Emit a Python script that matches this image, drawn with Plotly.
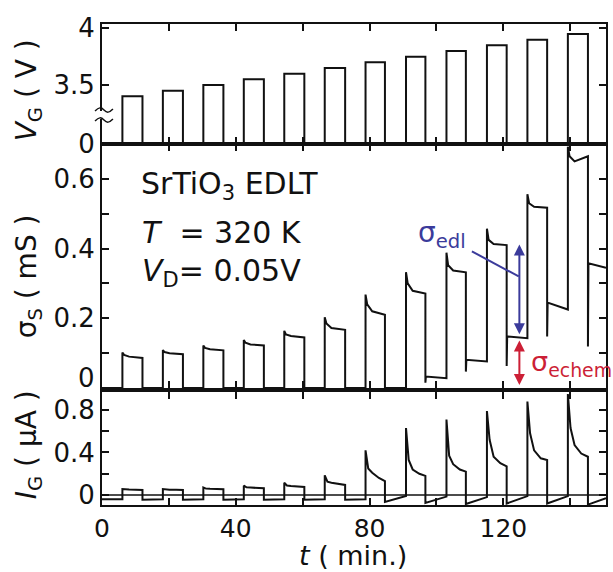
import plotly.graph_objects as go

# ---------------- data ----------------
t_on = [6.1, 18.2, 30.3, 42.4, 54.5, 66.6, 78.8, 90.9, 103.0, 115.1, 127.2, 139.3]
t_off = [12.1, 24.2, 36.3, 48.4, 60.5, 72.7, 84.6, 96.7, 108.8, 121.0, 133.1, 145.3]
t_end = 150.7

# gate voltage of each pulse (V)
vg = [3.40, 3.45, 3.50, 3.55, 3.60, 3.65, 3.70, 3.75, 3.80, 3.85, 3.90, 3.95]

# sheet conductance (mS): peak at gate-on, +0.5 min, +2 min, at gate-off,
# undershoot at gate-off, off level start / end
sig_peak = [0.102, 0.109, 0.122, 0.138, 0.164, 0.203, 0.268, 0.332, 0.388, 0.457, 0.556, 0.692]
sig_k1 = [0.095, 0.103, 0.115, 0.130, 0.154, 0.185, 0.240, 0.300, 0.352, 0.425, 0.530, 0.665]
sig_k2 = [0.090, 0.100, 0.111, 0.125, 0.149, 0.172, 0.220, 0.279, 0.337, 0.413, 0.520, 0.650]
sig_end = [0.086, 0.097, 0.108, 0.122, 0.145, 0.167, 0.210, 0.271, 0.332, 0.410, 0.517, 0.665]
sig_under = [0, 0, 0, 0, 0, 0, 0, 0.015, 0.047, 0.063, 0.148, 0.119]
sig_off_start = [0, 0, 0, 0, 0, 0, 0, 0.033, 0.081, 0.148, 0.245, 0.358]
sig_off_end = [0, 0, 0, 0, 0, 0, 0, 0.028, 0.076, 0.143, 0.225, 0.345]

# gate current (uA): peak, +0.8 min, +2 min, +4 min, at gate-off, off start / end
ig_pre = -0.04
ig_peak = [0.056, 0.056, 0.070, 0.088, 0.115, 0.185, 0.42, 0.63, 0.71, 0.79, 0.88, 0.95]
ig_k1 = [0.052, 0.052, 0.060, 0.072, 0.090, 0.125, 0.25, 0.33, 0.37, 0.52, 0.58, 0.63]
ig_k2 = [0.052, 0.050, 0.058, 0.070, 0.085, 0.115, 0.21, 0.24, 0.29, 0.36, 0.42, 0.47]
ig_k3 = [0.050, 0.050, 0.056, 0.066, 0.080, 0.105, 0.16, 0.20, 0.24, 0.30, 0.345, 0.39]
ig_end = [0.048, 0.048, 0.055, 0.063, 0.075, 0.095, 0.13, 0.18, 0.22, 0.27, 0.33, 0.36]
ig_off_start = [-0.045, -0.045, -0.045, -0.045, -0.045, -0.045, -0.065, -0.075, -0.085, -0.08, -0.08, -0.09]
ig_off_end = [-0.04, -0.04, -0.04, -0.04, -0.04, -0.04, -0.01, -0.015, -0.02, -0.01, -0.01, -0.03]

# annotation values
edl_t, edl_lo, edl_hi = 124.8, 0.150, 0.412
echem_lo, echem_hi = 0.004, 0.136

x_tickvals = [0, 20, 40, 60, 80, 100, 120, 140]
x_ticktext = ["0", "", "40", "", "80", "", "120", ""]

V_BREAK = 2.98  # where 0 V sits on the broken V_G axis

# ---------------- build traces ----------------
vx, vy = [0], [V_BREAK]
for a, b, v in zip(t_on, t_off, vg):
    vx += [a, a, b, b]
    vy += [V_BREAK, v, v, V_BREAK]
vx.append(t_end); vy.append(V_BREAK)

sx, sy = [0], [0.0]
base = 0.0
for k in range(len(t_on)):
    a, b = t_on[k], t_off[k]
    nxt = t_on[k + 1] if k + 1 < len(t_on) else t_end
    sx += [a, a, a + 0.5, a + 2, b, b, b + 0.15, nxt]
    sy += [base, sig_peak[k], sig_k1[k], sig_k2[k], sig_end[k], sig_under[k],
           sig_off_start[k], sig_off_end[k]]
    base = sig_off_end[k]

ix, iy = [0], [ig_pre]
base = ig_pre
for k in range(len(t_on)):
    a, b = t_on[k], t_off[k]
    nxt = t_on[k + 1] if k + 1 < len(t_on) else t_end
    ix += [a, a, a + 0.8, a + 2, a + 4, b, b, nxt]
    iy += [base, ig_peak[k], ig_k1[k], ig_k2[k], ig_k3[k], ig_end[k],
           ig_off_start[k], ig_off_end[k]]
    base = ig_off_end[k]

LC = "#111111"
fig = go.Figure()
fig.add_trace(go.Scatter(x=ix, y=iy, mode="lines", line=dict(color=LC, width=2),
                         xaxis="x", yaxis="y", showlegend=False))
fig.add_trace(go.Scatter(x=sx, y=sy, mode="lines", line=dict(color=LC, width=2),
                         xaxis="x2", yaxis="y2", showlegend=False))
fig.add_trace(go.Scatter(x=vx, y=vy, mode="lines", line=dict(color=LC, width=2),
                         xaxis="x3", yaxis="y3", showlegend=False))

FONT = "DejaVu Sans, Liberation Sans, Arial, sans-serif"
FS_TICK = 26
FS_TITLE = 28
FS_TEXT = 30
FS_SIG = 28

axis_common = dict(showline=True, linewidth=2, linecolor=LC, mirror="ticks",
                   ticks="inside", ticklen=7, tickwidth=1.5, tickcolor=LC,
                   showgrid=False, zeroline=False,
                   tickfont=dict(family=FONT, size=FS_TICK, color=LC))

# plot area in pixels: x 102..608, y 24..505
L, R, T, B = 102, 608, 24, 505
W, H = R - L, B - T

def px(x):
    return (x - L) / W

def py(y):
    return (B - y) / H

fig.update_layout(
    width=613, height=572,
    margin=dict(l=L, r=613 - R, t=T, b=572 - B),
    paper_bgcolor="white", plot_bgcolor="white",
    font=dict(family=FONT, size=FS_TICK, color=LC),
    xaxis=dict(axis_common, domain=[0, 1], range=[0, t_end], anchor="y",
               tickvals=x_tickvals, ticktext=x_ticktext,
               tickfont=dict(family=FONT, size=FS_TICK - 1, color=LC)),
    xaxis2=dict(axis_common, domain=[0, 1], range=[0, t_end], anchor="y2",
                tickvals=x_tickvals, showticklabels=False, matches="x"),
    xaxis3=dict(axis_common, domain=[0, 1], range=[0, t_end], anchor="y3",
                tickvals=x_tickvals, showticklabels=False, matches="x"),
    yaxis=dict(axis_common, domain=[0, py(392)], range=[-0.094, 0.969], anchor="x",
               tickvals=[0, 0.2, 0.4, 0.6, 0.8], ticktext=["0", "", "0.4", "", "0.8"]),
    yaxis2=dict(axis_common, domain=[py(388), py(144)], range=[0, 0.7], anchor="x2",
                tickvals=[0, 0.1, 0.2, 0.3, 0.4, 0.5, 0.6, 0.7],
                ticktext=["", "", "0.2", "", "0.4", "", "0.6", ""]),
    yaxis3=dict(axis_common, domain=[py(144), 1], range=[V_BREAK, 4.038], anchor="x3",
                tickvals=[V_BREAK, 3.5, 4.0], ticktext=["0", "3.5", "4"]),
)

# zero reference line in the I_G panel
fig.add_shape(type="line", xref="x domain", yref="y", x0=0, x1=1, y0=0, y1=0,
              line=dict(color=LC, width=1.5))

# axis break on V_G axis: white gap plus two wavy strokes
fig.add_shape(type="rect", xref="paper", yref="paper", x0=px(97), x1=px(107),
              y0=py(119), y1=py(111), fillcolor="white", line=dict(width=0), layer="above")
for yy in (110, 120):
    pts = [(95, yy + 1), (99, yy - 3), (104, yy), (109, yy + 3), (113, yy - 1)]
    path = "M {:.5f} {:.5f} C {:.5f} {:.5f} {:.5f} {:.5f} {:.5f} {:.5f} S {:.5f} {:.5f} {:.5f} {:.5f}".format(
        px(pts[0][0]), py(pts[0][1]), px(pts[1][0]), py(pts[1][1]),
        px(pts[1][0] + 2), py(pts[2][1] - 3), px(pts[2][0]), py(pts[2][1]),
        px(pts[3][0]), py(pts[3][1]), px(pts[4][0]), py(pts[4][1]))
    fig.add_shape(type="path", xref="paper", yref="paper", path=path,
                  line=dict(color=LC, width=1.5), layer="above")

ann = []
# axis titles
ann.append(dict(xref="paper", yref="paper", x=px(28), y=py(90), textangle=-90,
                text="<i>V</i><sub>G</sub> ( V )", showarrow=False,
                xanchor="center", yanchor="middle", font=dict(size=FS_TITLE)))
ann.append(dict(xref="paper", yref="paper", x=px(28), y=py(276), textangle=-90,
                text="σ<sub>S</sub> ( mS )", showarrow=False,
                xanchor="center", yanchor="middle", font=dict(size=FS_TITLE)))
ann.append(dict(xref="paper", yref="paper", x=px(28), y=py(445), textangle=-90,
                text="<i>I</i><sub>G</sub> ( μA )", showarrow=False,
                xanchor="center", yanchor="middle", font=dict(size=FS_TITLE)))
ann.append(dict(xref="paper", yref="paper", x=px(354), y=py(555.5),
                text="<i>t</i> ( min.)", showarrow=False,
                xanchor="center", yanchor="middle", font=dict(size=FS_TITLE - 1)))
# lone "0" of sigma axis (drawn slightly above the frame as in the reference)
ann.append(dict(xref="paper", yref="paper", x=px(97), y=py(378), text="0",
                showarrow=False, xanchor="right", yanchor="middle",
                font=dict(size=FS_TICK)))

# in-panel labels
ann.append(dict(xref="x2", yref="y2", x=11.0, y=0.582, text="SrTiO<sub>3</sub> EDLT",
                showarrow=False, xanchor="left", yanchor="middle", font=dict(size=FS_TEXT)))
ann.append(dict(xref="x2", yref="y2", x=11.3, y=0.447, text="<i>T</i>  = 320 K",
                showarrow=False, xanchor="left", yanchor="middle", font=dict(size=FS_TEXT)))
ann.append(dict(xref="x2", yref="y2", x=11.3, y=0.332, text="<i>V</i><sub>D</sub>= 0.05V",
                showarrow=False, xanchor="left", yanchor="middle", font=dict(size=FS_TEXT)))

BLUE = "#3b3b9b"
RED = "#cc1f36"
ann.append(dict(xref="x2", yref="y2", x=94.0, y=0.440, text="σ<sub>edl</sub>",
                showarrow=False, xanchor="left", yanchor="middle",
                font=dict(size=FS_SIG, color=BLUE)))
ann.append(dict(xref="x2", yref="y2", x=127.6, y=0.070, text="σ<sub>echem</sub>",
                showarrow=False, xanchor="left", yanchor="middle",
                font=dict(size=FS_SIG - 1, color=RED)))
ann.append(dict(xref="x2", yref="y2", x=edl_t, y=edl_hi, ax=edl_t, ay=edl_lo,
                axref="x2", ayref="y2", text="", showarrow=True, arrowside="end+start",
                arrowhead=2, arrowsize=1.1, arrowwidth=2, arrowcolor=BLUE))
ann.append(dict(xref="x2", yref="y2", x=edl_t, y=echem_hi, ax=edl_t, ay=echem_lo,
                axref="x2", ayref="y2", text="", showarrow=True, arrowside="end+start",
                arrowhead=2, arrowsize=1.1, arrowwidth=2, arrowcolor=RED))
fig.update_layout(annotations=ann)

# leader line from sigma_edl label to its arrow
fig.add_shape(type="line", xref="x2", yref="y2", x0=110.6, y0=0.392, x1=124.6, y1=0.320,
              line=dict(color=BLUE, width=2))

fig.write_html("out.html",
               config={"displayModeBar": False},
               post_script="document.body.style.margin='0';"
                           "document.body.style.overflow='hidden';")
